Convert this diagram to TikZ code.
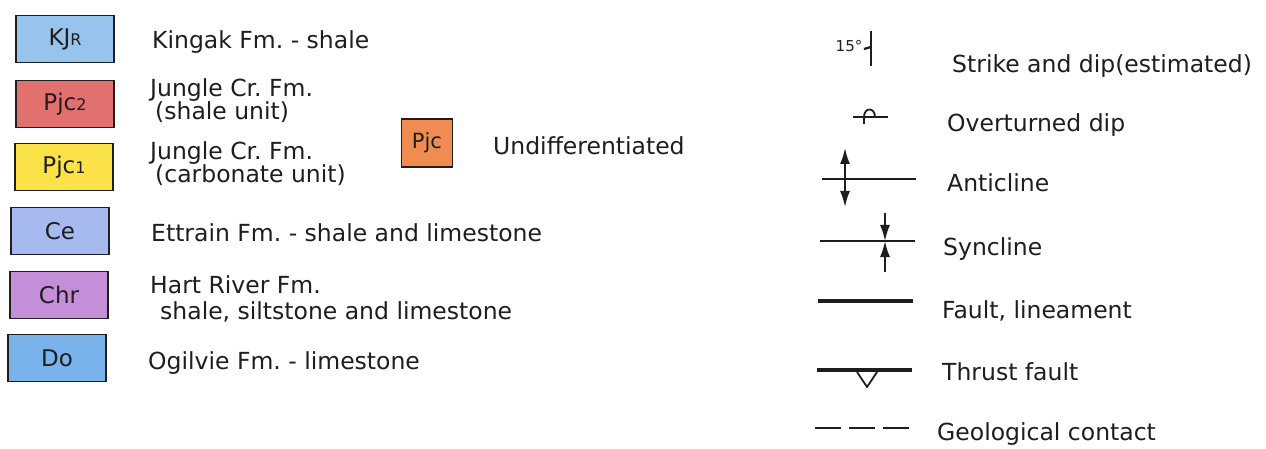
\documentclass[tikz,border=0pt]{standalone}
\usepackage{fontspec}
\setmainfont{DejaVu Sans}
\usetikzlibrary{arrows.meta}
\frenchspacing
\definecolor{ink}{RGB}{30,30,30}
\definecolor{kjrblue}{RGB}{150,196,236}
\definecolor{pjcred}{RGB}{226,112,110}
\definecolor{pjcyellow}{RGB}{250,226,72}
\definecolor{ceblue}{RGB}{166,186,240}
\definecolor{chrpurple}{RGB}{196,142,216}
\definecolor{doblue}{RGB}{122,178,236}
\definecolor{pjcorange}{RGB}{240,140,82}
\newcommand{\smallpart}[1]{{\fontsize{16}{16}\selectfont #1}}
\tikzset{foldtip/.tip={Latex[length=16pt,width=10pt]}}
\begin{document}
\begin{tikzpicture}[x=1pt,y=-1pt,
  unit/.style={draw=ink, line width=1.9pt, minimum width=98pt, minimum height=47pt,
    inner sep=0pt, font=\fontsize{23}{23}\selectfont, text=ink},
  lbl/.style={anchor=base west, inner sep=0pt, font=\fontsize{23.5}{26}\selectfont, text=ink},
  thinline/.style={line width=1.8pt, draw=ink},
  heavyline/.style={line width=3.8pt, draw=ink},
  headtip/.style={-foldtip}]
\useasboundingbox (0,0) rectangle (1266,449);
\fill[white] (0,0) rectangle (1266,449);

% formation colour boxes
\node[unit, fill=kjrblue]    (kjr)  at (65,39)  {KJ\smallpart{R}};
\node[unit, fill=pjcred]     (pjc2) at (65,104) {Pjc\smallpart{2}};
\node[unit, fill=pjcyellow]  (pjc1) at (64,167) {Pjc\smallpart{1}};
\node[unit, fill=ceblue]     (ce)   at (60,231) {Ce};
\node[unit, fill=chrpurple]  (chr)  at (59,295) {Chr};
\node[unit, fill=doblue]     (do)   at (57,358) {Do};
\node[unit, fill=pjcorange, minimum width=51pt, minimum height=48pt, font=\fontsize{21}{21}\selectfont] (pjc) at (427,143) {Pjc};

% formation descriptions
\node[lbl] (tkjr)   at (152,49)  {Kingak Fm. - shale};
\node[lbl] (tpjc2a) at (150,97)  {Jungle Cr. Fm.};
\node[lbl] (tpjc2b) at (155,120) {(shale unit)};
\node[lbl] (tpjc1a) at (150,160) {Jungle Cr. Fm.};
\node[lbl] (tpjc1b) at (155,183) {(carbonate unit)};
\node[lbl] (tce)    at (151,241) {Ettrain Fm. - shale and limestone};
\node[lbl] (tchra)  at (150,293) {Hart River Fm.};
\node[lbl] (tchrb)  at (160,319) {shale, siltstone and limestone};
\node[lbl] (tdo)    at (148,369) {Ogilvie Fm. - limestone};
\node[lbl] (tpjc)   at (493,155) {Undifferentiated};

% map symbol descriptions
\node[lbl] (tstrike) at (952,73)  {Strike and dip(estimated)};
\node[lbl] (tover)   at (947,132) {Overturned dip};
\node[lbl] (tanti)   at (947,192) {Anticline};
\node[lbl] (tsyn)    at (943,255) {Syncline};
\node[lbl] (tfault)  at (942,318) {Fault, lineament};
\node[lbl] (tthrust) at (942,380) {Thrust fault};
\node[lbl] (tcontact) at (937,440) {Geological contact};

% strike and dip
\node[inner sep=0pt, text=ink, font=\fontsize{15}{15}\selectfont] (dipval) at (849,46) {15°};
\draw[line width=2.8pt, ink] (871,31) -- (871,66);
\draw[line width=2.2pt, ink] (864,49) -- (871,47);

% overturned dip
\draw[thinline] (853,117) -- (888,117);
\draw[thinline] (864,124) -- (864,117) .. controls (864,107) and (875,107) .. (875,117);

% anticline
\draw[thinline] (822,179) -- (916,179);
\draw[thinline, foldtip-foldtip] (845,148) -- (845,207);

% syncline
\draw[thinline] (820,241) -- (915,241);
\draw[thinline, headtip] (885,213) -- (885,241);
\draw[thinline, headtip] (885,272) -- (885,241);

% fault, lineament
\draw[heavyline] (818,301) -- (913,301);

% thrust fault
\draw[heavyline] (817,370) -- (912,370);
\draw[line width=1.8pt, ink, line join=round] (857,372) -- (867,387) -- (877,372);

% geological contact
\draw[line width=1.3pt, ink, dash pattern=on 26pt off 8pt] (815,428) -- (910,428);
\end{tikzpicture}
\end{document}
